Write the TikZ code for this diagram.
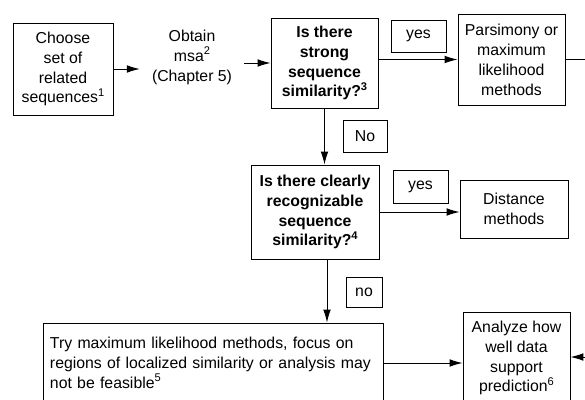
\documentclass[tikz,border=0pt]{standalone}
\usepackage{fontspec}
\setmainfont{Liberation Sans}
\usetikzlibrary{arrows.meta}

% footnote numbers in the boxes
\newcommand{\fnum}[1]{\raisebox{0.42em}{\fontsize{9.5}{10}\selectfont #1}}

\begin{document}
\begin{tikzpicture}[x=0.03cm, y=-0.03cm,
    font=\fontsize{13.5}{17}\selectfont,
    box/.style={draw, line width=0.8pt, align=center, inner sep=2pt},
    question/.style={box, font=\fontsize{13.5}{17}\selectfont\bfseries},
    answer/.style={draw, line width=0.7pt, inner sep=0pt},
    flow/.style={line width=0.8pt, -{Latex[length=11pt,width=6.5pt]}}]
    % frame of the picture
    \useasboundingbox (0,0) rectangle (585,400);
    \clip (0,0) rectangle (585,400);

    % draw boxes
    \node[box, minimum width=3cm, minimum height=2.76cm] (choose) at (63,69)
        {Choose\\set of\\related\\sequences\fnum{1}};
    \node[align=center, inner xsep=0.36cm] (msa) at (192,57)
        {Obtain\\msa\fnum{2}\\(Chapter 5)};
    \node[question, minimum width=3.21cm, minimum height=2.7cm] (strong) at (324.5,63)
        {Is there\\strong\\sequence\\similarity?\fnum{3}};
    \node[box, minimum width=3.21cm, minimum height=2.73cm] (pars) at (511.5,59.5)
        {Parsimony or\\maximum\\likelihood\\methods};
    \node[question, minimum width=3.84cm, minimum height=2.82cm] (clear) at (315,212)
        {Is there clearly\\recognizable\\sequence\\similarity?\fnum{4}};
    \node[box, minimum width=3.24cm, minimum height=1.74cm] (dist) at (514,209)
        {Distance\\methods};
    \node[box, minimum width=10.2cm, minimum height=2.4cm, inner xsep=0.21cm,
        text width=9.78cm, align=left] (try) at (213,363)
        {Try maximum likelihood methods, focus on regions of localized similarity or analysis may not be feasible\fnum{5}};
    \node[box, minimum width=3.21cm, minimum height=2.76cm] (anal) at (516.5,358)
        {Analyze how\\well data\\support\\prediction\fnum{6}};

    % draw answers
    \node[answer, minimum width=1.65cm, minimum height=0.96cm] (yesA) at (418.5,36) {yes};
    \node[answer, minimum width=1.32cm, minimum height=0.96cm] (noA) at (365,136) {No};
    \node[answer, minimum width=1.65cm, minimum height=0.99cm] (yesB) at (420.5,186.5) {yes};
    \node[answer, minimum width=1.08cm, minimum height=0.9cm] (noB) at (364,292) {no};

    % draw arrows
    \coordinate (outA) at (590,57);
    \coordinate (outB) at (590,357);
    \draw[flow] (choose.east) -- (choose.east -| msa.west);
    \draw[flow] (strong.west -| msa.east) -- (strong.west);
    \draw[flow] (pars.west -| strong.east) -- (pars.west);
    \draw[flow] (strong.south) -- (strong.south |- clear.north);
    \draw[flow] (clear.east) -- (clear.east -| dist.west);
    \draw[flow] ([xshift=0.36cm]clear.south) -- ([xshift=0.36cm]clear.south |- try.north);
    \draw[flow] (try.east) -- (try.east -| anal.west);
    \draw[line width=0.8pt] (pars.east) -- (pars.east -| outA);
    \draw[flow] (outB) -- (outB -| anal.east);
\end{tikzpicture}
\end{document}
